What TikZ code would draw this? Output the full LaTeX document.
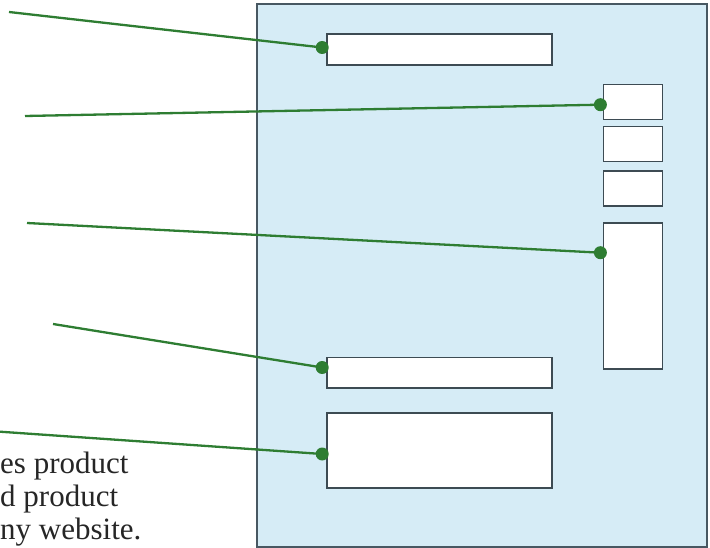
\documentclass[tikz,border=0pt]{standalone}
\usepackage{fontspec}
\setmainfont{Liberation Serif}
\usepackage{tikz}
\usetikzlibrary{arrows.meta,calc,positioning}
\definecolor{leafgreen}{RGB}{46,125,50}
\definecolor{panelblue}{RGB}{214,236,246}
\definecolor{slate}{RGB}{72,88,98}
\definecolor{inkgray}{RGB}{38,38,38}

\begin{document}
\begin{tikzpicture}[x=1pt,y=-1pt,
  pane/.style={draw=slate,line width=2pt,fill=panelblue},
  slot/.style={draw=slate!85!black,line width=1.6pt,fill=white,inner sep=0pt},
  lead/.style={line width=2.3pt,leafgreen},
  note/.style={anchor=base west,inner sep=0pt,text=inkgray,font=\fontsize{31}{33}\selectfont}]
  \useasboundingbox (0,0) rectangle (710,548);
  % page frame
  \draw[pane] (257,4) rectangle (706.5,546.5);
  % boxes on the page
  \node[slot,minimum width=225pt,minimum height=31pt] (banner) at (439.5,49.5) {};
  \node[slot,minimum width=59pt,minimum height=35pt] (linkA) at (633,102.2) {};
  \node[slot,minimum width=59pt,minimum height=35pt] (linkB) at (633,144.2) {};
  \node[slot,minimum width=59pt,minimum height=35pt] (linkC) at (633,188.5) {};
  \node[slot,minimum width=59pt,minimum height=146pt] (sidebar) at (633,296) {};
  \node[slot,minimum width=225pt,minimum height=30.5pt] (caption) at (439.5,372.8) {};
  \node[slot,minimum width=225pt,minimum height=75pt] (content) at (439.5,450.5) {};
  % free ends and dots
  \coordinate (E1) at (9,12);
  \coordinate (E2) at (25,116);
  \coordinate (E3) at (27,223);
  \coordinate (E4) at (53,324);
  \coordinate (E5) at (0,431.7);
  \coordinate (D1) at ($(banner.west)+(-4,-2)$);
  \coordinate (D2) at ($(linkA.west)+(-2.3,2.5)$);
  \coordinate (D3) at ($(sidebar.north west)+(-2.3,30.5)$);
  \coordinate (D4) at ($(caption.west)+(-4,-5.3)$);
  \coordinate (D5) at ($(content.west)+(-4,3.5)$);
  \foreach \i in {1,...,5} {
    \draw[lead] (E\i) -- (D\i);
    \fill[leafgreen] (D\i) circle (6.5pt);
  }
  % text cut at the left edge
  \node[note] (lineA) at (0,473) {es product};
  \node[note] (lineB) at (0,506.5) {d product};
  \node[note] (lineC) at (0,539.5) {ny website.};
\end{tikzpicture}
\end{document}
